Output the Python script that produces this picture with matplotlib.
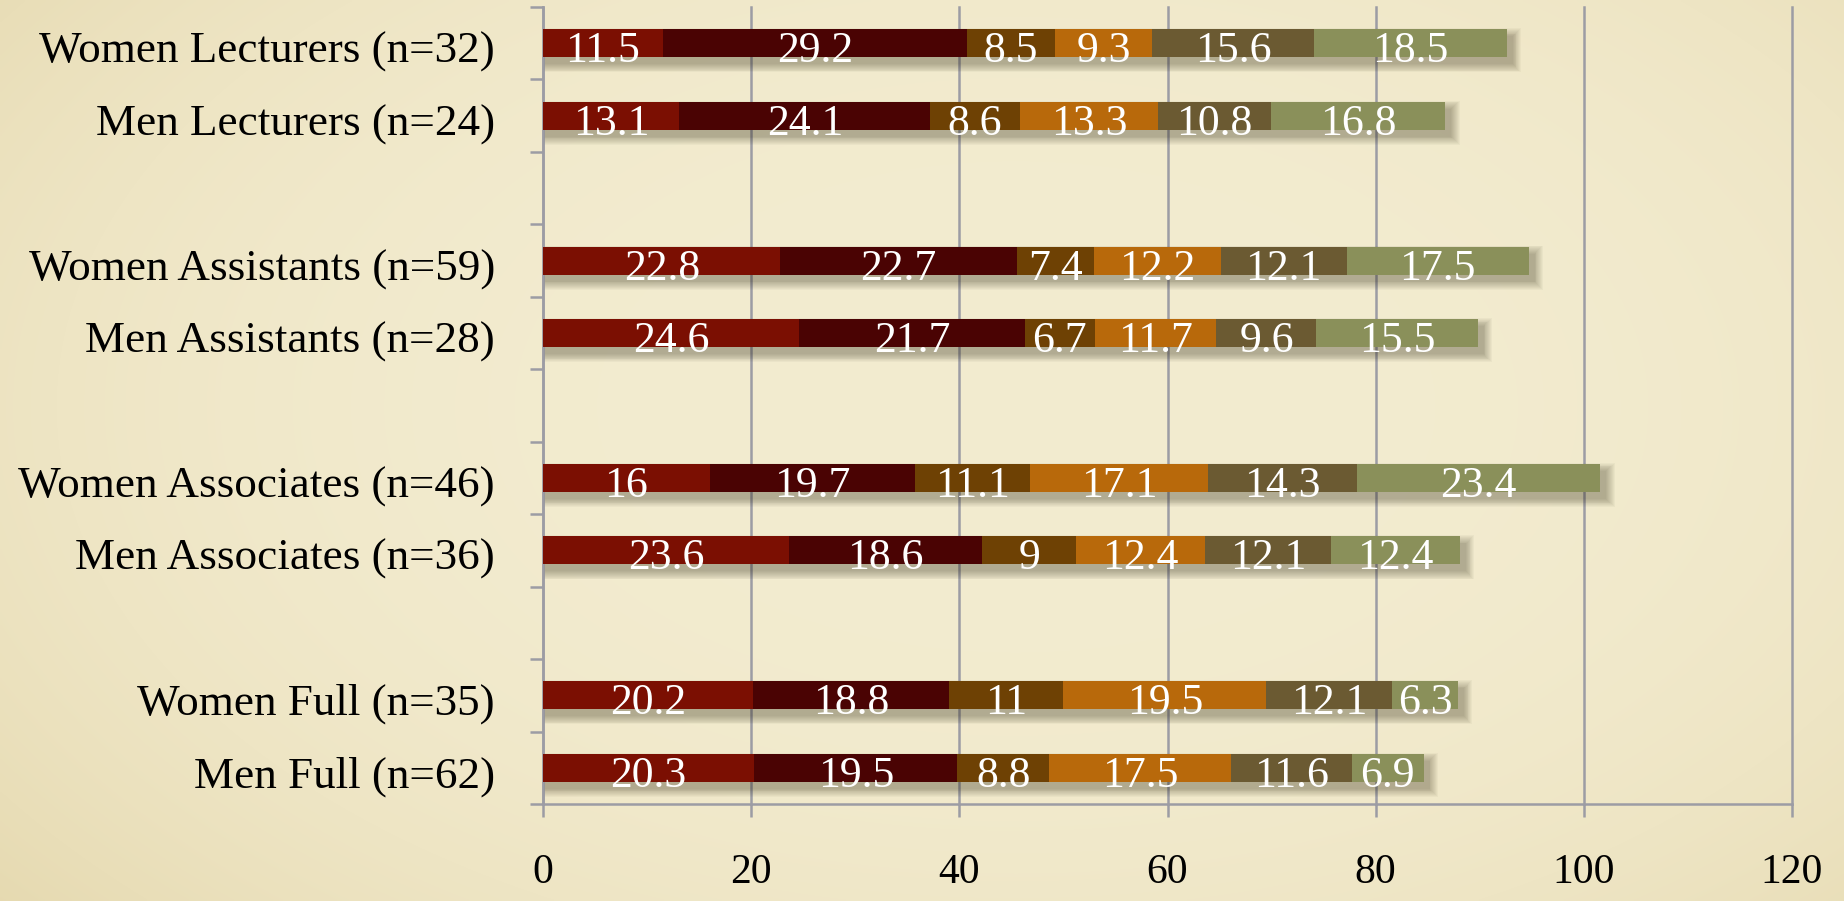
import numpy as np
import matplotlib
matplotlib.use("Agg")
import matplotlib.pyplot as plt
from matplotlib import transforms
from matplotlib.colors import to_rgb

# ---------------- data ----------------
categories = ["Women Lecturers (n=32)", "Men Lecturers (n=24)",
              "Women Assistants (n=59)", "Men Assistants (n=28)",
              "Women Associates (n=46)", "Men Associates (n=36)",
              "Women Full (n=35)", "Men Full (n=62)"]
seg1 = [11.5, 13.1, 22.8, 24.6, 16, 23.6, 20.2, 20.3]
seg2 = [29.2, 24.1, 22.7, 21.7, 19.7, 18.6, 18.8, 19.5]
seg3 = [8.5, 8.6, 7.4, 6.7, 11.1, 9, 11, 8.8]
seg4 = [9.3, 13.3, 12.2, 11.7, 17.1, 12.4, 19.5, 17.5]
seg5 = [15.6, 10.8, 12.1, 9.6, 14.3, 12.1, 12.1, 11.6]
seg6 = [18.5, 16.8, 17.5, 15.5, 23.4, 12.4, 6.3, 6.9]
xticks = [0, 20, 40, 60, 80, 100, 120]

series = [seg1, seg2, seg3, seg4, seg5, seg6]
colors = ["#7b0f02", "#4a0303", "#6e4104", "#b8690b", "#6b5a32", "#8a905a"]

FONT = "Liberation Serif"
GRID = "#9c9ca4"

fig = plt.figure(figsize=(18.44, 9.01), dpi=100)

# parchment background (smooth, gentle vignette)
bgax = fig.add_axes([0, 0, 1, 1], zorder=-10)
H, W = 300, 600
yy, xx = np.mgrid[0:H, 0:W]
r = np.sqrt(((xx - W * 0.55) / (W * 0.75)) ** 2 + ((yy - H * 0.45) / (H * 0.9)) ** 2)
t = np.clip(r, 0, 1) ** 3
c0 = np.array(to_rgb("#f3ecd0"))
c1 = np.array(to_rgb("#e4d7ac"))
img = c0[None, None, :] * (1 - t[..., None]) + c1[None, None, :] * t[..., None]
bgax.imshow(img, aspect="auto", extent=[0, 1, 0, 1], interpolation="bilinear")
bgax.set_axis_off()

ax = fig.add_axes([0.2945, 0.1077, 0.6773, 0.8845])
ax.patch.set_alpha(0)

# y positions: pairs separated by a blank row
ypos = np.array([i + i // 2 for i in range(len(categories))], dtype=float)
nrows = int(ypos.max()) + 1
ax.set_xlim(0, 120)
ax.set_ylim(nrows - 0.5, -0.5)

bar_h = 0.386
px_x = 120 / 1249.0
px_y = nrows / 797.0

totals = np.sum(np.array(series), axis=0)

# soft drop shadows
n_layers = 10
for k in range(n_layers):
    s = (n_layers - 1 - k) * 0.9  # spread in px
    ax.barh(ypos + 7 * px_y, totals + (4 + 2 * s) * px_x, left=(2 - s) * px_x,
            height=bar_h + 2 * s * px_y, color="#2a2410", alpha=0.035,
            linewidth=0, zorder=2)

left = np.zeros(len(categories))
for vals, col in zip(series, colors):
    vals = np.array(vals, dtype=float)
    ax.barh(ypos, vals, left=left, height=bar_h, color=col, linewidth=0, zorder=3)
    for y, v, l in zip(ypos, vals, left):
        ax.text(l + v / 2, y + 19 * px_y, f"{v:g}", ha="center", va="baseline",
                color="white", fontsize=31.5, family=FONT, zorder=5)
    left += vals

# grid & axes
ax.set_xticks(xticks)
ax.set_xticklabels([str(x) for x in xticks], fontsize=30, family=FONT)
ax.grid(axis="x", color=GRID, linewidth=1.8, zorder=0)
for gl in ax.get_xgridlines():
    gl.set_clip_on(False)
ax.set_axisbelow(True)
for sp in ["top", "right"]:
    ax.spines[sp].set_visible(False)
for sp in ["left", "bottom"]:
    ax.spines[sp].set_color(GRID)
    ax.spines[sp].set_linewidth(1.8)
ax.tick_params(axis="x", length=9.5, width=1.8, color=GRID, pad=26, labelcolor="black")
ax.set_yticks(np.arange(-0.5, nrows, 1.0))
ax.set_yticklabels([])
ax.tick_params(axis="y", length=9.5, width=1.8, color=GRID)

# category labels
trans = transforms.blended_transform_factory(ax.transAxes, ax.transData) + \
    transforms.ScaledTranslation(-48 / 100, 0, fig.dpi_scale_trans)
for y, lab in zip(ypos, categories):
    ax.text(0, y + 19.5 * px_y, lab, transform=trans, ha="right", va="baseline",
            fontsize=32.5, family=FONT, color="black")

fig.savefig("out.png", dpi=100)
